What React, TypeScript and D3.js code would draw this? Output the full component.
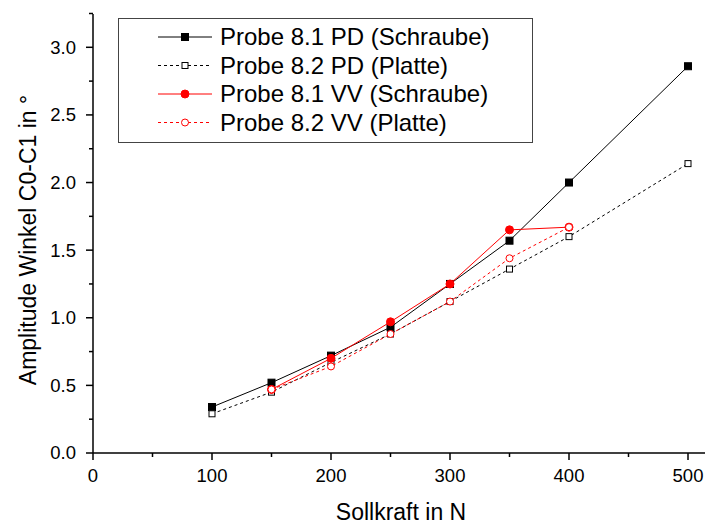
import { useEffect, useRef } from "react";
import * as d3 from "d3";

const forces = [100, 150, 200, 250, 300, 350, 400, 500];
const pd81 = [0.34, 0.52, 0.72, 0.93, 1.25, 1.57, 2.0, 2.86];
const pd82 = [0.29, 0.45, 0.67, 0.88, 1.12, 1.36, 1.6, 2.14];
const vvForces = [150, 200, 250, 300, 350, 400];
const vv81 = [0.47, 0.7, 0.97, 1.25, 1.65, 1.67];
const vv82 = [0.47, 0.64, 0.88, 1.12, 1.44, 1.67];

const xTicks = [0, 100, 200, 300, 400, 500];
const xMinor = [50, 150, 250, 350, 450];
const yTicks = [0, 0.5, 1.0, 1.5, 2.0, 2.5, 3.0];
const yMinor = [0.25, 0.75, 1.25, 1.75, 2.25, 2.75, 3.25];

const series = [
  { name: "Probe 8.1 PD (Schraube)", xs: forces, ys: pd81, color: "#000", dash: null, shape: "square", filled: true },
  { name: "Probe 8.2 PD (Platte)", xs: forces, ys: pd82, color: "#000", dash: "3,3", shape: "square", filled: false },
  { name: "Probe 8.1 VV (Schraube)", xs: vvForces, ys: vv81, color: "#f00", dash: null, shape: "circle", filled: true },
  { name: "Probe 8.2 VV (Platte)", xs: vvForces, ys: vv82, color: "#f00", dash: "3,3", shape: "circle", filled: false },
];

export default function App() {
  const ref = useRef<SVGSVGElement>(null);

  useEffect(() => {
    document.body.style.margin = "0";
    const width = 705;
    const left = 93;
    const bottom = 453;
    const font = "'Liberation Sans', Arial, sans-serif";

    const svg = d3.select(ref.current);
    svg.selectAll("*").remove();

    const x = d3.scaleLinear([0, 500], [left, 688]);
    const y = d3.scaleLinear([0, 3.0], [bottom, 47.3]);

    // axes lines
    svg.append("line").attr("x1", left).attr("x2", width).attr("y1", bottom).attr("y2", bottom)
      .attr("stroke", "#000").attr("stroke-width", 1.5);
    svg.append("line").attr("x1", left).attr("x2", left).attr("y1", bottom).attr("y2", 14)
      .attr("stroke", "#000").attr("stroke-width", 1.5);

    // x ticks
    svg.append("g").selectAll("line").data(xTicks).join("line")
      .attr("x1", d => x(d)).attr("x2", d => x(d)).attr("y1", bottom).attr("y2", bottom + 7)
      .attr("stroke", "#000").attr("stroke-width", 1.5);
    svg.append("g").selectAll("line").data(xMinor).join("line")
      .attr("x1", d => x(d)).attr("x2", d => x(d)).attr("y1", bottom).attr("y2", bottom + 4)
      .attr("stroke", "#000").attr("stroke-width", 1.5);
    svg.append("g").selectAll("text").data(xTicks).join("text")
      .attr("x", d => x(d)).attr("y", 482)
      .attr("text-anchor", "middle").attr("font-family", font).attr("font-size", 18.5)
      .text(d => String(d));

    // y ticks
    svg.append("g").selectAll("line").data(yTicks).join("line")
      .attr("x1", left - 7).attr("x2", left).attr("y1", d => y(d)).attr("y2", d => y(d))
      .attr("stroke", "#000").attr("stroke-width", 1.5);
    svg.append("g").selectAll("line").data(yMinor).join("line")
      .attr("x1", left - 4).attr("x2", left).attr("y1", d => y(d)).attr("y2", d => y(d))
      .attr("stroke", "#000").attr("stroke-width", 1.5);
    svg.append("g").selectAll("text").data(yTicks).join("text")
      .attr("x", 76).attr("y", d => y(d)).attr("dy", "0.35em")
      .attr("text-anchor", "end").attr("font-family", font).attr("font-size", 18.5)
      .text(d => d3.format(".1f")(d));

    // axis titles
    svg.append("text").attr("x", 401).attr("y", 520).attr("text-anchor", "middle")
      .attr("font-family", font).attr("font-size", 23).text("Sollkraft in N");
    svg.append("text").attr("transform", "translate(36,240) rotate(-90)").attr("text-anchor", "middle")
      .attr("font-family", font).attr("font-size", 23).text("Amplitude Winkel C0-C1 in °");

    const drawMarker = (g: any, s: any, cx: number, cy: number) => {
      if (s.shape === "square") {
        const sz = s.filled ? 7 : 6;
        g.append("rect").attr("x", cx - sz / 2).attr("y", cy - sz / 2).attr("width", sz).attr("height", sz)
          .attr("fill", s.filled ? s.color : "#fff").attr("stroke", s.color).attr("stroke-width", 1);
      } else {
        g.append("circle").attr("cx", cx).attr("cy", cy).attr("r", s.filled ? 4 : 3.5)
          .attr("fill", s.filled ? s.color : "#fff").attr("stroke", s.color).attr("stroke-width", 1);
      }
    };

    const line = d3.line<[number, number]>().x(d => x(d[0])).y(d => y(d[1]));

    series.forEach(s => {
      const pts: [number, number][] = s.xs.map((v, i) => [v, s.ys[i]]);
      const g = svg.append("g");
      g.append("path").attr("d", line(pts)).attr("fill", "none").attr("stroke", s.color)
        .attr("stroke-width", 1).attr("stroke-dasharray", s.dash);
      pts.forEach(p => drawMarker(g, s, x(p[0]), y(p[1])));
    });

    // legend
    const lg = svg.append("g");
    lg.append("rect").attr("x", 118.5).attr("y", 18.5).attr("width", 414).attr("height", 124)
      .attr("fill", "#fff").attr("stroke", "#444").attr("stroke-width", 1);
    series.forEach((s, i) => {
      const cy = 37 + i * 28.5;
      lg.append("line").attr("x1", 158).attr("x2", 212).attr("y1", cy).attr("y2", cy)
        .attr("stroke", s.color).attr("stroke-width", 1).attr("stroke-dasharray", s.dash);
      drawMarker(lg, s, 185, cy);
      lg.append("text").attr("x", 220).attr("y", cy).attr("dy", "0.35em")
        .attr("font-family", font).attr("font-size", 24).text(s.name);
    });
  }, []);

  return <svg ref={ref} width={705} height={525} style={{ display: "block" }} />;
}
